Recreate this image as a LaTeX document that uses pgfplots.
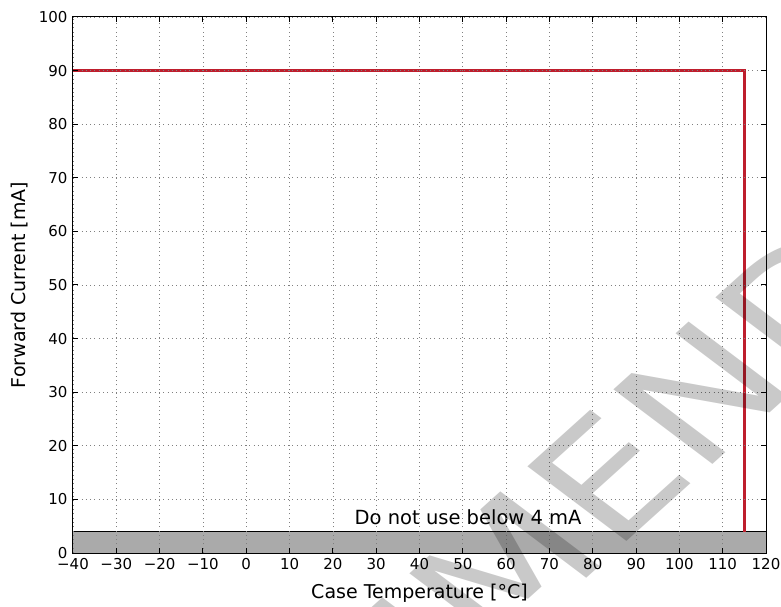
\documentclass[border=0pt]{standalone}
\usepackage{pgfplots}
\pgfplotsset{compat=1.18}
\usepackage{fontspec}
\setmainfont{DejaVu Sans}
\definecolor{ledred}{RGB}{190,30,45}
\definecolor{band}{RGB}{170,170,170}
\begin{document}
\begin{tikzpicture}
\useasboundingbox (-73bp,-54bp) rectangle (708bp,553bp);
\begin{axis}[
  at={(0,0)}, anchor=south west,
  width=693bp, height=536bp, scale only axis,
  xmin=-40, xmax=120, ymin=0, ymax=100,
  xtick={-40,-30,...,120},
  xticklabels={−40,−30,−20,−10,0,10,20,30,40,50,60,70,80,90,100,110,120},
  ytick={0,10,...,100},
  tick align=inside, major tick length=5.5bp,
  grid=major,
  grid style={black!50, line width=0.7bp, dash pattern=on 1bp off 3.3bp},
  axis line style={line width=1bp},
  tick style={black, line width=1bp},
  axis on top,
  /pgf/number format/assume math mode=true,
  tick label style={font=\fontsize{15bp}{17bp}\selectfont},
  xticklabel style={yshift=-2bp},
  yticklabel style={xshift=-2bp},
  label style={font=\fontsize{19bp}{21bp}\selectfont},
  xlabel={Case Temperature [°C]},
  ylabel={Forward Current [mA]},
  xlabel style={at={(axis description cs:0.5,-0.084)}, anchor=base},
  ylabel style={at={(axis description cs:-0.0765,0.5)}, anchor=center},
]
\addplot[fill=band, draw=none] coordinates {(-40,0) (-40,4) (120,4) (120,0)} -- cycle;
\addplot[black, line width=1.2bp] coordinates {(-40,4) (120,4)};
\addplot[ledred, line width=2.8bp] coordinates {(-40,90) (115,90) (115,4)};
\node[anchor=base west, inner sep=0, font=\fontsize{19.5bp}{21bp}\selectfont] at (axis cs:25,5.4) {Do not use below 4 mA};
\coordinate (P) at (axis cs:84.8,-0.2);
\end{axis}
\node[cm={0.802,0.723,-0.799,0.602,(0,0)}, anchor=base west, inner sep=0, font=\fontsize{170bp}{170bp}\selectfont, text=black, text opacity=0.21] at (P) {ENDED};
\node[cm={0.802,0.723,-0.799,0.602,(0,0)}, anchor=base east, inner sep=0, font=\fontsize{170bp}{170bp}\selectfont, text=black, text opacity=0.21] at (P) {NOT RECOMM};
\end{tikzpicture}
\end{document}
